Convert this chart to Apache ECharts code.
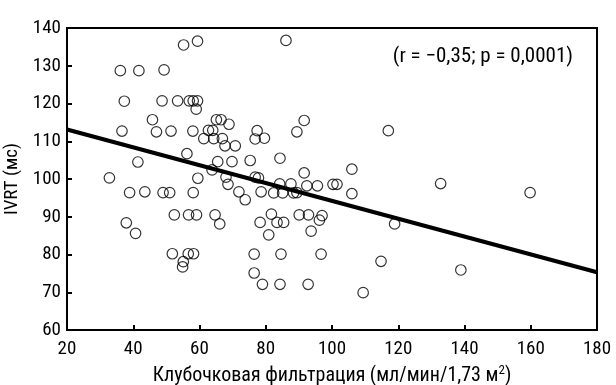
<!DOCTYPE html>
<html>
<head>
<meta charset="utf-8">
<script src="https://cdn.jsdelivr.net/npm/echarts@6/dist/echarts.min.js"></script>
<style>html,body{margin:0;padding:0;background:#fff}#c{width:616px;height:385px}</style>
</head>
<body>
<div id="c"></div>
<script>
const xValues = [55.2,59.4,86.1,36.1,41.7,49.3,37.3,48.7,53.4,56.9,58.1,59.4,59.0,45.8,65.1,66.5,68.9,91.6,36.6,47.0,51.4,58.0,62.7,64.0,77.4,89.4,117.0,61.3,64.3,66.9,76.8,79.6,67.7,70.8,56.2,84.3,41.4,65.5,69.8,75.3,63.8,91.6,106.0,32.8,59.5,68.0,76.8,77.8,68.6,71.9,73.8,38.9,43.5,49.0,51.0,58.1,78.6,82.4,84.2,87.6,85.1,88.4,89.4,92.4,95.6,100.3,101.5,106.0,132.8,159.8,52.4,56.7,59.1,64.7,66.1,37.9,40.7,81.7,78.3,83.4,85.4,80.9,90.1,92.9,97.0,96.2,93.7,118.9,51.8,56.6,58.2,55.1,54.9,76.5,84.6,96.7,114.8,76.5,79.0,84.3,92.8,109.4,138.9];
const yValues = [135.5,136.5,136.7,128.7,128.7,128.9,120.6,120.7,120.7,120.7,120.7,120.7,118.5,115.7,115.7,115.7,114.5,115.5,112.7,112.5,112.7,112.7,112.9,112.9,112.8,112.5,112.8,110.7,110.7,110.7,110.6,110.8,108.8,108.8,106.7,105.5,104.5,104.6,104.6,104.9,102.4,101.6,102.6,100.3,100.2,100.5,100.5,100.3,98.6,96.6,94.5,96.4,96.6,96.4,96.4,96.4,96.6,96.3,98.7,98.7,96.3,96.3,96.4,98.2,98.2,98.6,98.6,96.1,98.8,96.4,90.5,90.5,90.5,90.5,88.1,88.4,85.6,90.7,88.5,88.5,88.5,85.2,90.5,90.5,90.3,89.1,86.2,88.1,80.2,80.2,80.2,78.1,76.7,80.1,80.1,80.1,78.2,75.1,72.1,72.1,72.1,69.9,75.9];
const lineX = [20, 180];
const lineY = [113.1, 75.3];
const annotation = '(r = \u22120,35; p = 0,0001)';
const xNameMain = 'Клубочковая фильтрация (мл/мин/1,73 м';
const xNameSup = '2';
const xNameEnd = ')';
const yName = 'IVRT (мс)';

const FONT = '"Roboto Condensed", "Liberation Sans", Arial, sans-serif';
const chart = echarts.init(document.getElementById('c'), null, {renderer: 'canvas'});
chart.setOption({
  animation: false,
  backgroundColor: '#fff',
  title: {
    text: annotation, right: 38, top: 41,
    textStyle: {fontFamily: FONT, fontSize: 21, fontWeight: 'normal', color: '#000'}
  },
  grid: {left: 67, right: 19, top: 28, bottom: 55, outerBoundsMode: 'none', containLabel: false, show: true, borderColor: '#000', borderWidth: 2, backgroundColor: 'transparent'},
  xAxis: {
    type: 'value', min: 20, max: 180, interval: 20,
    name: '{a|' + xNameMain + '}{s|' + xNameSup + '}{a|' + xNameEnd + '}',
    nameLocation: 'middle', nameGap: 32,
    nameTextStyle: {
      fontFamily: FONT, fontSize: 20, color: '#000',
      rich: {
        a: {fontFamily: FONT, fontSize: 20, color: '#000', lineHeight: 24},
        s: {fontFamily: FONT, fontSize: 13, color: '#000', lineHeight: 16, verticalAlign: 'top'}
      }
    },
    axisLine: {show: true, lineStyle: {color: '#000', width: 2}},
    axisTick: {show: true, inside: true, length: 5, lineStyle: {color: '#000', width: 2}},
    axisLabel: {fontFamily: FONT, fontSize: 19, color: '#000', margin: 10},
    splitLine: {show: false}
  },
  yAxis: {
    type: 'value', min: 60, max: 140, interval: 10,
    name: yName, nameLocation: 'middle', nameGap: 40,
    nameTextStyle: {fontFamily: FONT, fontSize: 19, color: '#000'},
    axisLine: {show: true, lineStyle: {color: '#000', width: 2}},
    axisTick: {show: true, inside: true, length: 5, lineStyle: {color: '#000', width: 2}},
    axisLabel: {fontFamily: FONT, fontSize: 19, color: '#000', margin: 6},
    splitLine: {show: false}
  },
  series: [
    {
      type: 'scatter',
      data: xValues.map((x, i) => [x, yValues[i]]),
      symbol: 'circle', symbolSize: 10.5,
      itemStyle: {color: 'rgba(0,0,0,0)', borderColor: '#000', borderWidth: 1.2},
      z: 2
    },
    {
      type: 'line',
      data: lineX.map((x, i) => [x, lineY[i]]),
      symbol: 'none',
      lineStyle: {color: '#000', width: 4},
      z: 3
    }
  ]
});
</script>
</body>
</html>
